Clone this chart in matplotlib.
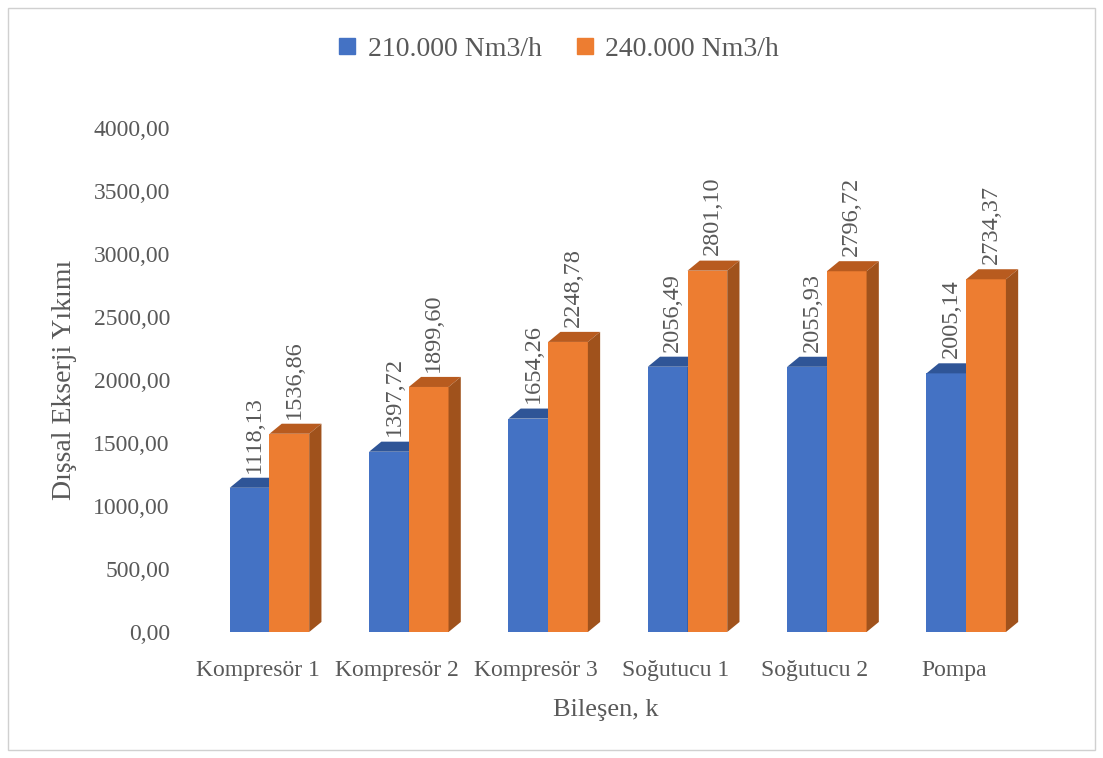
import numpy as np
import matplotlib.pyplot as plt
from matplotlib.patches import Polygon, Rectangle
from matplotlib.lines import Line2D

plt.rcParams['font.family'] = ['Liberation Serif', 'DejaVu Serif']

# Veriler
bilesenler = ['Kompresör 1', 'Kompresör 2', 'Kompresör 3', 'Soğutucu 1', 'Soğutucu 2', 'Pompa']
deger_210 = [1118.13, 1397.72, 1654.26, 2056.49, 2055.93, 2005.14]
deger_240 = [1536.86, 1899.60, 2248.78, 2801.10, 2796.72, 2734.37]
seri_adlari = ['210.000 Nm3/h', '240.000 Nm3/h']
y_ticks = [0, 500, 1000, 1500, 2000, 2500, 3000, 3500, 4000]

renk_on = ['#4472C4', '#ED7D31']
renk_ust = ['#2F5597', '#B85B1F']
renk_yan = ['#2B4F8C', '#A0521C']
yazi = '#595959'

fig = plt.figure(figsize=(11.03, 7.58), dpi=100)
konum = [0.1704, 0.1662, 0.7580, 0.6649]
# eksen etiketleri icin arka eksen, cubuklar icin on eksen (3B perspektif farki)
ax_eksen = fig.add_axes(konum)
ax = fig.add_axes(konum, sharex=ax_eksen)
ax.patch.set_visible(False)
ax.axis('off')
fig.patches.append(Rectangle((0.007, 0.01), 0.986, 0.98, transform=fig.transFigure,
                             fill=False, edgecolor='#D0D0D0', linewidth=1))

x = np.arange(len(bilesenler))
w = 0.285
dx = 0.088   # derinlik (x)
dy = 78      # derinlik (y)

for k, (seri, off) in enumerate([(deger_210, -0.2), (deger_240, -0.2 + w)]):
    for i, v in enumerate(seri):
        x0 = x[i] + off
        x1 = x0 + w
        z = 2 + k
        ax.add_patch(Rectangle((x0, 0), w, v, facecolor=renk_on[k], edgecolor='none', zorder=z))
        ax.add_patch(Polygon([(x0, v), (x1, v), (x1 + dx, v + dy), (x0 + dx, v + dy)],
                             closed=True, facecolor=renk_ust[k], edgecolor='none', zorder=z))
        ax.add_patch(Polygon([(x1, 0), (x1 + dx, dy), (x1 + dx, v + dy), (x1, v)],
                             closed=True, facecolor=renk_yan[k], edgecolor='none', zorder=z))
        ax.text(x0 + w / 2 + dx * 0.4, v + dy + 40, f'{v:.2f}'.replace('.', ','),
                rotation=90, ha='center', va='bottom', fontsize=17.5, color=yazi, zorder=5)

ax_eksen.set_xlim(-0.5, len(bilesenler) - 0.5)
ax_eksen.set_ylim(0, 4000)
ax.set_ylim(0, 3907)
ax_eksen.set_xticks(x)
ax_eksen.set_xticklabels(bilesenler, fontsize=17, color=yazi)
ax_eksen.set_yticks(y_ticks)
ax_eksen.set_yticklabels([f'{t:.2f}'.replace('.', ',') for t in y_ticks], fontsize=17, color=yazi)
ax_eksen.tick_params(length=0, pad=13)
ax_eksen.tick_params(axis='x', pad=20)
for s in ax_eksen.spines.values():
    s.set_visible(False)

ax_eksen.set_ylabel('Dışsal Ekserji Yıkımı', fontsize=20, color=yazi, labelpad=12)
ax_eksen.set_xlabel('Bileşen, k', fontsize=19, color=yazi, labelpad=13)

tutamak = [Line2D([], [], marker='s', linestyle='none', markersize=11,
                  markerfacecolor=c, markeredgecolor=c) for c in renk_on]
fig.legend(tutamak, seri_adlari, loc='upper center', bbox_to_anchor=(0.506, 0.985), ncol=2,
           frameon=False, fontsize=20, labelcolor=yazi, handlelength=0.7,
           handletextpad=0.4, columnspacing=1.2)

fig.savefig('out.png', dpi=100)
